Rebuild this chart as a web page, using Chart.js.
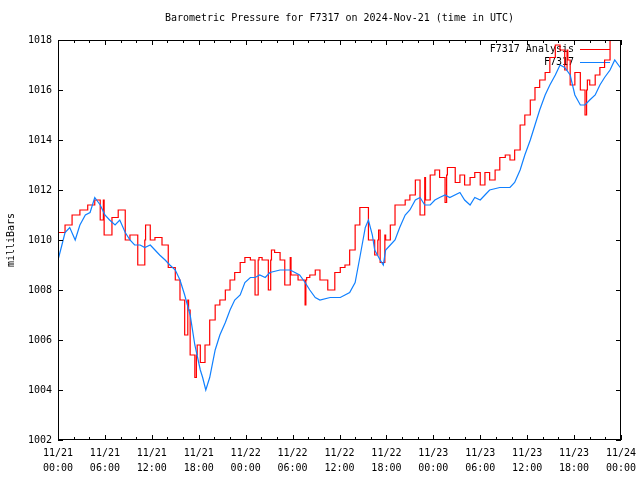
<!DOCTYPE html>
<html><head><meta charset="utf-8">
<script src="https://cdn.jsdelivr.net/npm/chart.js@4"></script>
<style>html,body{margin:0;padding:0;background:#fff}canvas{display:block}</style>
</head><body>
<canvas id="c" width="640" height="480"></canvas>
<script>
const TITLE = 'Barometric Pressure for F7317 on 2024-Nov-21 (time in UTC)';
const Y_TITLE = 'milliBars';
const SERIES_NAMES = ['F7317 Analysis', 'F7317'];

// x axis ticks (hours since 11/21 00:00 UTC)
const X_TICK_HOURS = [0, 6, 12, 18, 24, 30, 36, 42, 48, 54, 60, 66, 72];
const X_TICK_DAYS  = ['11/21','11/21','11/21','11/21','11/22','11/22','11/22','11/22','11/23','11/23','11/23','11/23','11/24'];
const X_TICK_TIMES = ['00:00','06:00','12:00','18:00','00:00','06:00','12:00','18:00','00:00','06:00','12:00','18:00','00:00'];

// F7317 Analysis (red, stepped)
const redTimes = [
  0.0,0.9,1.8,2.8,3.8,4.7,5.4,5.8,5.9,6.9,
  7.7,8.6,9.2,10.2,11.1,11.2,11.8,12.4,13.3,14.1,
  15.0,15.6,16.2,16.6,16.7,16.9,17.5,17.7,17.8,18.2,
  18.8,19.4,20.1,20.7,21.4,22.0,22.6,23.3,23.9,24.6,
  25.2,25.6,25.7,26.1,26.9,27.2,27.3,27.7,28.4,29.0,
  29.7,29.8,30.7,31.6,31.7,31.8,32.2,32.9,33.5,34.5,
  35.4,36.1,36.7,37.3,38.0,38.6,39.7,40.5,40.9,41.0,
  41.2,41.8,41.9,42.5,43.1,44.4,45.0,45.7,46.3,46.9,
  47.0,47.6,48.2,48.8,49.5,49.7,49.8,50.8,51.4,52.0,
  52.7,53.3,54.0,54.6,55.2,55.9,56.5,57.2,57.8,58.4,
  59.1,59.7,60.4,61.0,61.6,62.3,62.9,63.6,64.2,64.8,
  65.1,65.2,65.5,66.1,66.8,67.4,67.6,67.7,68.0,68.7,
  69.3,69.9,70.6,71.2,72.0
];
const redValues = [
  1010.0,1010.3,1010.6,1011.0,1011.2,1011.4,1011.6,1010.8,1011.6,1010.2,
  1010.9,1011.2,1010.0,1010.2,1009.0,1010.0,1010.6,1010.0,1010.1,1009.8,
  1008.9,1008.4,1007.6,1006.2,1007.6,1007.2,1005.4,1004.5,1005.4,1005.8,
  1005.1,1005.8,1006.8,1007.4,1007.6,1008.0,1008.4,1008.7,1009.1,1009.3,
  1009.2,1007.8,1009.2,1009.3,1009.2,1008.0,1009.2,1009.6,1009.5,1009.2,
  1008.2,1009.3,1008.6,1008.4,1007.4,1008.4,1008.5,1008.6,1008.8,1008.4,
  1008.0,1008.7,1008.9,1009.0,1009.6,1010.6,1011.3,1010.0,1009.4,1010.0,
  1010.4,1009.1,1010.2,1010.0,1010.6,1011.4,1011.6,1011.8,1012.4,1011.0,
  1012.5,1011.6,1012.6,1012.8,1012.5,1011.5,1012.6,1012.9,1012.3,1012.6,
  1012.2,1012.5,1012.7,1012.2,1012.7,1012.4,1012.8,1013.3,1013.4,1013.2,
  1013.6,1014.6,1015.0,1015.6,1016.1,1016.4,1016.7,1017.3,1017.8,1017.6,
  1016.8,1017.6,1017.2,1016.2,1016.7,1016.0,1015.0,1016.0,1016.4,1016.2,
  1016.6,1016.9,1017.2,1018.2,1018.2
];

// F7317 observations (blue)
const blueTimes = [
  0.0,0.5,0.9,1.5,2.2,2.8,3.5,4.1,4.7,5.4,
  6.0,6.6,7.3,7.9,8.6,9.2,9.8,10.5,11.1,11.8,
  12.4,13.0,13.7,14.3,15.0,15.6,16.2,16.9,17.5,18.2,
  18.5,18.9,19.4,20.1,20.7,21.4,22.0,22.6,23.3,23.9,
  24.6,25.2,25.8,26.5,27.1,28.4,29.7,30.9,31.6,32.2,
  32.9,33.5,34.8,36.1,37.3,38.0,38.6,39.3,39.7,40.2,
  40.5,41.2,41.6,41.9,42.5,43.1,43.7,44.4,45.0,45.7,
  46.3,46.9,47.6,48.2,48.8,49.5,50.1,51.4,52.0,52.7,
  53.3,54.0,54.6,55.2,56.5,57.8,58.4,59.1,59.7,60.4,
  61.0,61.6,62.3,62.9,63.6,64.2,64.8,65.5,66.1,66.8,
  67.4,68.0,68.7,69.3,69.9,70.6,71.2,71.9
];
const blueValues = [
  1009.2,1009.8,1010.3,1010.5,1010.0,1010.6,1011.0,1011.1,1011.7,1011.4,
  1011.0,1010.8,1010.6,1010.8,1010.3,1010.0,1009.8,1009.8,1009.7,1009.8,
  1009.6,1009.4,1009.2,1009.0,1008.8,1008.4,1007.8,1007.0,1005.8,1004.8,
  1004.5,1004.0,1004.5,1005.6,1006.2,1006.7,1007.2,1007.6,1007.8,1008.3,
  1008.5,1008.5,1008.6,1008.5,1008.7,1008.8,1008.8,1008.6,1008.3,1008.0,
  1007.7,1007.6,1007.7,1007.7,1007.9,1008.3,1009.3,1010.5,1010.8,1010.2,
  1009.6,1009.2,1009.0,1009.6,1009.8,1010.0,1010.5,1011.0,1011.2,1011.6,
  1011.7,1011.4,1011.4,1011.6,1011.7,1011.8,1011.7,1011.9,1011.6,1011.4,
  1011.7,1011.6,1011.8,1012.0,1012.1,1012.1,1012.3,1012.8,1013.4,1014.0,
  1014.6,1015.2,1015.8,1016.2,1016.6,1017.0,1016.9,1016.6,1015.8,1015.4,
  1015.4,1015.6,1015.8,1016.2,1016.5,1016.8,1017.2,1016.9
];

const Y_MIN = 1002, Y_MAX = 1018, Y_STEP = 2;
const RED = '#ff0000', BLUE = '#1080ff';

Chart.defaults.font.family = "'DejaVu Sans Mono', monospace";
Chart.defaults.font.size = 10;
Chart.defaults.color = '#000';

const framePlugin = {
  id: 'gnuframe',
  beforeDatasetsDraw(chart) {
    const ctx = chart.ctx, a = chart.chartArea;
    ctx.save();
    ctx.font = "10px 'DejaVu Sans Mono', monospace";
    ctx.textAlign = 'right';
    ctx.textBaseline = 'middle';
    const cols = [RED, BLUE];
    SERIES_NAMES.forEach((name, i) => {
      const y = a.top + 9 + i * 13;
      ctx.fillStyle = '#000';
      ctx.fillText(name, a.right - 47, y);
      ctx.strokeStyle = cols[i];
      ctx.lineWidth = 1;
      ctx.beginPath();
      ctx.moveTo(a.right - 41, Math.round(y) + 0.5);
      ctx.lineTo(a.right - 11, Math.round(y) + 0.5);
      ctx.stroke();
    });
    ctx.restore();
  },
  afterDraw(chart) {
    const ctx = chart.ctx, a = chart.chartArea;
    const xs = chart.scales.x, ys = chart.scales.y;
    ctx.save();
    ctx.strokeStyle = '#000';
    ctx.lineWidth = 1;
    ctx.beginPath();
    for (let h = 0; h <= 72; h += 2) {
      const px = Math.round(xs.getPixelForValue(h)) + 0.5;
      const len = (h % 6 === 0) ? 5 : 3;
      ctx.moveTo(px, a.bottom); ctx.lineTo(px, a.bottom - len);
      ctx.moveTo(px, a.top); ctx.lineTo(px, a.top + len);
    }
    for (let v = Y_MIN; v <= Y_MAX; v += Y_STEP) {
      const py = Math.round(ys.getPixelForValue(v)) + 0.5;
      ctx.moveTo(a.left, py); ctx.lineTo(a.left + 5, py);
      ctx.moveTo(a.right, py); ctx.lineTo(a.right - 5, py);
    }
    ctx.stroke();
    ctx.strokeRect(a.left + 0.5, a.top + 0.5, a.right - a.left - 1, a.bottom - a.top - 1);
    ctx.restore();
  }
};

new Chart(document.getElementById('c'), {
  type: 'line',
  data: {
    datasets: [
      {
        label: SERIES_NAMES[0],
        data: redTimes.map((t, i) => ({ x: t, y: redValues[i] })),
        borderColor: RED, borderWidth: 1.2, pointRadius: 0, stepped: 'after',
        tension: 0, fill: false, order: 1
      },
      {
        label: SERIES_NAMES[1],
        data: blueTimes.map((t, i) => ({ x: t, y: blueValues[i] })),
        borderColor: BLUE, borderWidth: 1.2, pointRadius: 0,
        tension: 0, fill: false, order: 0
      }
    ]
  },
  options: {
    responsive: false,
    animation: false,
    layout: { padding: { left: 0, right: 19, top: 0, bottom: 0 } },
    plugins: {
      legend: { display: false },
      tooltip: { enabled: false },
      title: {
        display: true, fullSize: false, text: TITLE, color: '#000',
        font: { size: 10, weight: 'normal', lineHeight: 1.2 },
        padding: { top: 12, bottom: 16 }
      }
    },
    scales: {
      x: {
        type: 'linear', min: 0, max: 72,
        afterFit(s) { s.height = 40; s.paddingRight = 0; s.paddingLeft = 0; },
        afterBuildTicks(s) { s.ticks = X_TICK_HOURS.map(v => ({ value: v })); },
        grid: { display: false, drawTicks: false },
        border: { display: false },
        ticks: {
          autoSkip: false, maxRotation: 0, minRotation: 0, padding: 6,
          font: { size: 10, lineHeight: 1.5 },
          callback(v) {
            const i = X_TICK_HOURS.indexOf(v);
            return i < 0 ? '' : [X_TICK_DAYS[i], X_TICK_TIMES[i]];
          }
        }
      },
      y: {
        min: Y_MIN, max: Y_MAX,
        afterFit(s) { s.width = 58; s.paddingTop = 0; s.paddingBottom = 0; },
        grid: { display: false, drawTicks: false },
        border: { display: false },
        ticks: { stepSize: Y_STEP, padding: 6, callback: v => String(v) },
        title: { display: true, text: Y_TITLE, padding: { top: 5, bottom: 0 }, font: { size: 10 } }
      }
    }
  },
  plugins: [framePlugin]
});
</script>
</body></html>
